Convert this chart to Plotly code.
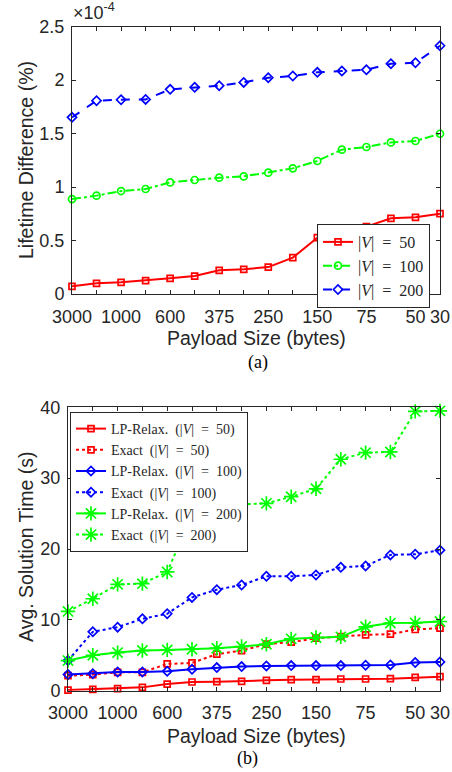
import plotly.graph_objects as go

# ---------------- data ----------------
x_idx = list(range(16))
tick_labels = ["3000", "", "1000", "", "600", "", "375", "", "250", "", "150", "", "75", "", "50", "30"]

# (a) lifetime difference, in units of 1e-4 %
life_v50 = [0.072, 0.10, 0.109, 0.125, 0.147, 0.168, 0.221, 0.231, 0.252, 0.34, 0.527, 0.56, 0.63, 0.708, 0.717, 0.751]
life_v100 = [0.888, 0.92, 0.963, 0.982, 1.044, 1.066, 1.088, 1.10, 1.135, 1.175, 1.244, 1.35, 1.375, 1.418, 1.431, 1.499]
life_v200 = [1.652, 1.808, 1.817, 1.82, 1.914, 1.933, 1.948, 1.979, 2.023, 2.039, 2.073, 2.085, 2.097, 2.154, 2.163, 2.322]

# (b) avg. solution time (s)
lp_v50 = [0.09, 0.19, 0.28, 0.47, 0.94, 1.23, 1.27, 1.32, 1.46, 1.56, 1.56, 1.65, 1.65, 1.70, 1.89, 1.98]
ex_v50 = [2.12, 2.27, 2.6, 2.6, 3.78, 3.92, 5.15, 5.67, 6.56, 6.85, 7.41, 7.65, 7.88, 7.98, 8.64, 8.83]
lp_v100 = [2.27, 2.41, 2.64, 2.64, 2.74, 3.02, 3.26, 3.4, 3.49, 3.54, 3.54, 3.54, 3.59, 3.64, 3.97, 4.06]
ex_v100 = [4.25, 8.31, 8.97, 10.15, 10.86, 13.17, 14.26, 14.92, 16.15, 16.15, 16.34, 17.42, 17.61, 19.17, 19.26, 19.83]
lp_v200 = [4.25, 5.0, 5.38, 5.67, 5.76, 5.85, 6.0, 6.23, 6.56, 7.32, 7.51, 7.6, 9.02, 9.54, 9.58, 9.77]
ex_v200 = [11.19, 12.98, 15.01, 15.11, 16.76, 24.8, 25.9, 26.3, 26.44, 27.38, 28.5, 32.67, 33.6, 33.7, 39.42, 39.5]

RED, GREEN, BLUE = "#FF0000", "#00FF00", "#0000FF"
W, H = 452, 772
AX = "#262626"
SANS = "Liberation Sans, Arial, sans-serif"
SERIF = "Liberation Serif, Times New Roman, serif"
SP = "\u2002"

fig = go.Figure()

def add(x, y, name, color, dash, symbol, size, xa, ya, legend):
    fig.add_trace(go.Scatter(
        x=x, y=y, name=name, mode="lines+markers", xaxis=xa, yaxis=ya, legend=legend,
        line=dict(color=color, width=2, dash=dash),
        marker=dict(symbol=symbol, size=size, color=color, line=dict(color=color, width=1.7)),
        cliponaxis=False))

def vlab(n):
    return f"|<i>V</i>|{SP}={SP}{n}"

add(x_idx, life_v50, vlab(50), RED, "solid", "square-open", 6, "x", "y", "legend")
add(x_idx, life_v100, vlab(100), GREEN, "dashdot", "circle-open", 7, "x", "y", "legend")
add(x_idx, life_v200, vlab(200), BLUE, "dash", "diamond-open", 7, "x", "y", "legend")

add(x_idx, lp_v50, f"LP-Relax.{SP}({vlab(50)})", RED, "solid", "square-open", 6, "x2", "y2", "legend2")
add(x_idx, ex_v50, f"Exact{SP}({vlab(50)})", RED, "dot", "square-open", 6, "x2", "y2", "legend2")
add(x_idx, lp_v100, f"LP-Relax.{SP}({vlab(100)})", BLUE, "solid", "diamond-open", 7, "x2", "y2", "legend2")
add(x_idx, ex_v100, f"Exact{SP}({vlab(100)})", BLUE, "dot", "diamond-open", 7, "x2", "y2", "legend2")
add(x_idx, lp_v200, f"LP-Relax.{SP}({vlab(200)})", GREEN, "solid", "asterisk-open", 12, "x2", "y2", "legend2")
add(x_idx, ex_v200, f"Exact{SP}({vlab(200)})", GREEN, "dot", "asterisk-open", 12, "x2", "y2", "legend2")

common_x = dict(range=[0, 15], tickvals=x_idx, ticktext=tick_labels, ticks="inside", ticklen=4,
                tickcolor=AX, showline=True, linecolor=AX, linewidth=1, mirror="ticks",
                showgrid=False, zeroline=False, ticklabelstandoff=6, automargin=False,
                tickfont=dict(family=SANS, size=18, color=AX))
common_y = dict(ticks="inside", ticklen=4, tickcolor=AX, showline=True, linecolor=AX, linewidth=1,
                mirror="ticks", showgrid=False, zeroline=False, ticklabelstandoff=3, automargin=False,
                tickfont=dict(family=SANS, size=18, color=AX))

fig.update_layout(
    width=W, height=H, margin=dict(l=0, r=0, t=0, b=0, pad=0, autoexpand=False),
    paper_bgcolor="white", plot_bgcolor="white", showlegend=True,
    xaxis=dict(domain=[72 / W, 440 / W], anchor="y", **common_x),
    yaxis=dict(domain=[1 - 294 / H, 1 - 26.7 / H], anchor="x", range=[0, 2.5],
               tickvals=[0, 0.5, 1, 1.5, 2, 2.5], ticktext=["0", "0.5", "1", "1.5", "2", "2.5"], **common_y),
    xaxis2=dict(domain=[68 / W, 440 / W], anchor="y2", **common_x),
    yaxis2=dict(domain=[1 - 690.7 / H, 1 - 407.3 / H], anchor="x2", range=[0, 40],
                tickvals=[0, 10, 20, 30, 40], **common_y),
    legend=dict(x=317 / W, y=1 - 224 / H, xanchor="left", yanchor="top",
                bgcolor="white", bordercolor=AX, borderwidth=1,
                font=dict(family=SERIF, size=16, color=AX), tracegroupgap=0),
    legend2=dict(x=70 / W, y=1 - 412 / H, xanchor="left", yanchor="top",
                 bgcolor="white", bordercolor=AX, borderwidth=1,
                 font=dict(family=SERIF, size=14, color=AX), tracegroupgap=0),
)

ann = [
    dict(text="×10<sup>-4</sup>", x=71 / W, y=1 - 25 / H, xanchor="left", yanchor="bottom",
         font=dict(family=SANS, size=18, color=AX)),
    dict(text="Lifetime Difference (%)", x=26 / W, y=1 - 160 / H, textangle=-90,
         font=dict(family=SANS, size=19.5, color=AX)),
    dict(text="Payload Size (bytes)", x=256 / W, y=1 - 338 / H,
         font=dict(family=SANS, size=19.5, color=AX)),
    dict(text="(a)", x=258 / W, y=1 - 362 / H, font=dict(family=SERIF, size=18, color="black")),
    dict(text="Avg. Solution Time (s)", x=26 / W, y=1 - 547 / H, textangle=-90,
         font=dict(family=SANS, size=19.5, color=AX)),
    dict(text="Payload Size (bytes)", x=256 / W, y=1 - 736 / H,
         font=dict(family=SANS, size=19.5, color=AX)),
    dict(text="(b)", x=247 / W, y=1 - 758 / H, font=dict(family=SERIF, size=18, color="black")),
]
for a in ann:
    a.update(xref="paper", yref="paper", showarrow=False)
    a.setdefault("xanchor", "center")
    a.setdefault("yanchor", "middle")
fig.update_layout(annotations=ann)

fig.write_html("out.html", post_script="document.body.style.margin='0';document.body.style.overflow='hidden';")
